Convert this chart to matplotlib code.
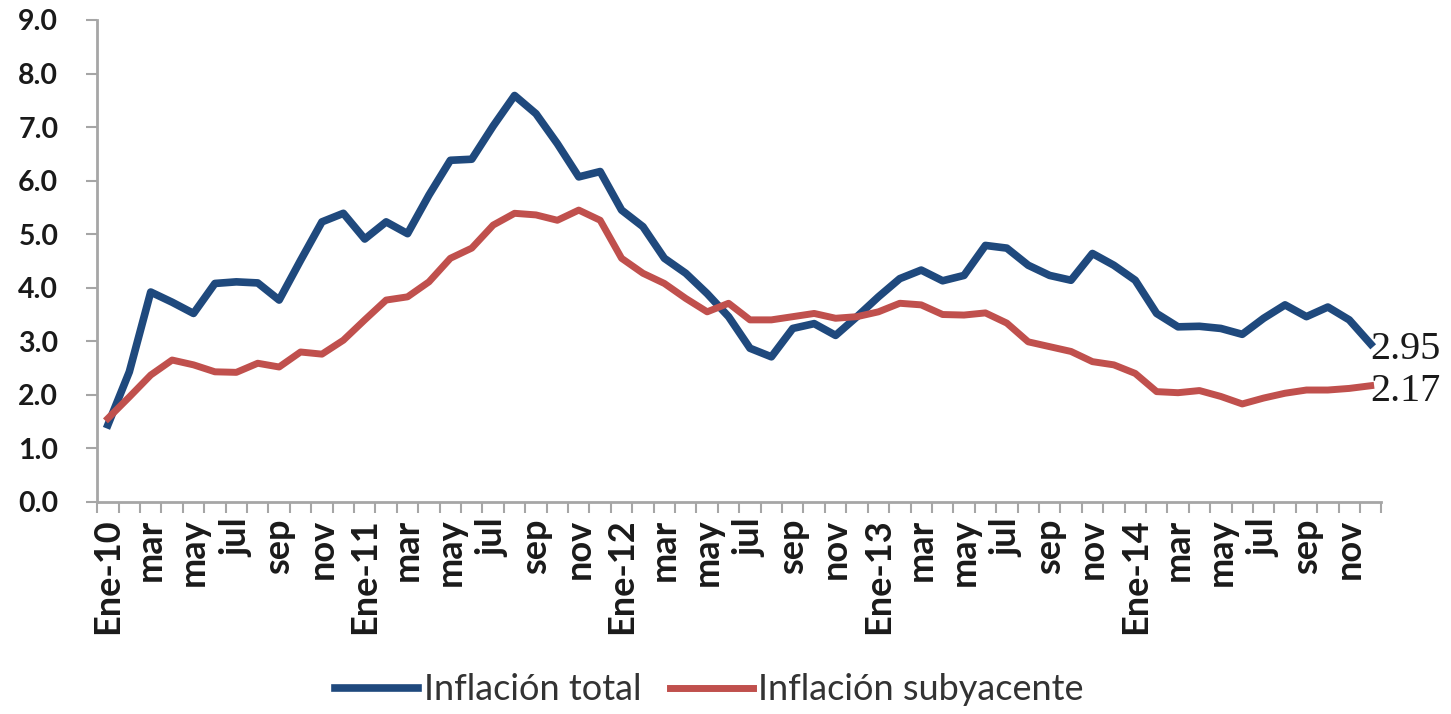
import numpy as np
import matplotlib
matplotlib.use("Agg")
import matplotlib.pyplot as plt

# --- Datos: inflación interanual (%), enero 2010 a diciembre 2014 ---
meses = ["Ene", "feb", "mar", "abr", "may", "jun",
         "jul", "ago", "sep", "oct", "nov", "dic"]
anios = ["10", "11", "12", "13", "14"]

inflacion_total = [
    1.44, 2.43, 3.92, 3.73, 3.52, 4.08, 4.11, 4.09, 3.77, 4.51, 5.23, 5.39,
    4.91, 5.23, 5.01, 5.73, 6.38, 6.40, 7.02, 7.59, 7.25, 6.69, 6.07, 6.17,
    5.45, 5.14, 4.55, 4.27, 3.89, 3.46, 2.87, 2.71, 3.24, 3.33, 3.11, 3.46,
    3.83, 4.17, 4.33, 4.13, 4.23, 4.79, 4.74, 4.42, 4.23, 4.14, 4.64, 4.42,
    4.14, 3.52, 3.27, 3.28, 3.24, 3.13, 3.43, 3.68, 3.46, 3.64, 3.40, 2.95,
]
inflacion_subyacente = [
    1.56, 1.96, 2.37, 2.65, 2.56, 2.43, 2.42, 2.59, 2.52, 2.80, 2.76, 3.02,
    3.40, 3.77, 3.83, 4.11, 4.55, 4.74, 5.17, 5.39, 5.36, 5.26, 5.45, 5.26,
    4.55, 4.27, 4.08, 3.80, 3.55, 3.71, 3.40, 3.40, 3.46, 3.52, 3.43, 3.46,
    3.55, 3.71, 3.68, 3.50, 3.49, 3.53, 3.34, 2.99, 2.90, 2.81, 2.62, 2.56,
    2.40, 2.06, 2.04, 2.08, 1.97, 1.83, 1.94, 2.03, 2.09, 2.09, 2.12, 2.17,
]

# Etiquetas del eje: "Ene-AA" en enero, abreviatura del mes en los demás
etiquetas = [f"{m}-{a}" if m == "Ene" else m for a in anios for m in meses]

AZUL = "#1F497D"
ROJO = "#C0504D"
GRIS = "#A6A6A6"

plt.rcParams["font.family"] = ["Lato", "DejaVu Sans"]

fig = plt.figure(figsize=(14.51, 7.14), dpi=100)
ax = fig.add_axes([0.067, 0.297, 0.885, 0.675])

x = np.arange(len(inflacion_total))
ax.plot(x, inflacion_total, color=AZUL, lw=5.5, label="Inflación total")
ax.plot(x, inflacion_subyacente, color=ROJO, lw=5.0, label="Inflación subyacente")

# Valores del último mes al final de cada serie
for serie in (inflacion_total, inflacion_subyacente):
    ax.annotate(f"{serie[-1]:.2f}", xy=(x[-1], serie[-1]), xytext=(0, -4),
                textcoords="offset points", ha="left", va="center",
                family="Liberation Serif", fontsize=29, color="#1a1a1a")

# Ejes
ax.set_xlim(-0.5, len(x) - 0.5)
ax.set_ylim(0, 9)
ax.set_yticks(np.arange(0, 9.5, 1))
ax.set_yticklabels([f"{v:.1f}" for v in np.arange(0, 9.5, 1)],
                   fontsize=20.5, fontweight="bold", color="#1a1a1a")
ax.set_xticks(x[::2])
ax.set_xticklabels(etiquetas[::2], rotation=90, fontsize=26,
                   fontweight="bold", color="#1a1a1a")
ax.set_xticks(np.arange(-0.5, len(x), 1), minor=True)

ax.tick_params(axis="x", which="major", length=0, pad=12)
ax.tick_params(axis="x", which="minor", length=8, width=1.5, color=GRIS)
ax.tick_params(axis="y", length=8, width=1.5, color=GRIS, pad=20)

for lado in ("top", "right"):
    ax.spines[lado].set_visible(False)
for lado in ("left", "bottom"):
    ax.spines[lado].set_color(GRIS)
    ax.spines[lado].set_linewidth(2)

fig.legend(loc="center", bbox_to_anchor=(0.489, 0.034), ncol=2, frameon=False,
           fontsize=26, handlelength=2.3, handletextpad=0.15,
           columnspacing=0.8, labelcolor="#333333")

fig.savefig("out.png", dpi=100, facecolor="white")
